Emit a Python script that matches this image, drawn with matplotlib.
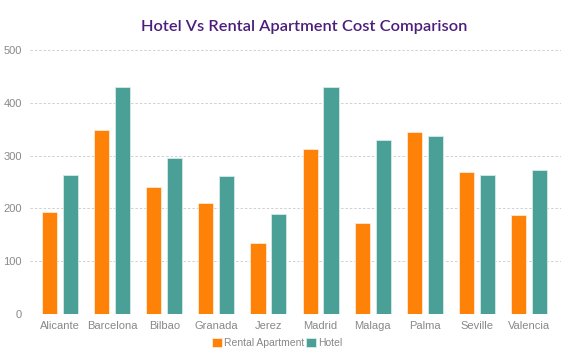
import matplotlib
matplotlib.use("Agg")
import matplotlib.pyplot as plt
import numpy as np

cities = ["Alicante", "Barcelona", "Bilbao", "Granada", "Jerez", "Madrid",
          "Malaga", "Palma", "Seville", "Valencia"]
rental = [193, 349, 241, 210, 134, 312, 172, 344, 268, 187]
hotel = [263, 430, 296, 261, 189, 430, 329, 338, 263, 272]
yticks = [0, 100, 200, 300, 400, 500]
series_names = ["Rental Apartment", "Hotel"]
colors = ["#FF8208", "#4A9F97"]

fig = plt.figure(figsize=(5.8, 3.56), dpi=100)
ax = fig.add_axes([30/580, 1-314/356, (561-30)/580, (314-50)/356])

x = np.arange(len(cities))
w = 0.29
off = 0.2
ax.bar(x - off, rental, w, color=colors[0], edgecolor="#FFE9D5", linewidth=0.6,
       label=series_names[0], zorder=3)
ax.bar(x + off, hotel, w, color=colors[1], edgecolor="#D5ECE9", linewidth=0.6,
       label=series_names[1], zorder=3)

ax.set_xlim(-0.576, 9.614)
ax.set_ylim(0, 500)
ax.set_yticks(yticks)
ax.set_xticks(x)
ax.set_xticklabels(cities)
for s in ax.spines.values():
    s.set_visible(False)
ax.yaxis.grid(True, linestyle=(0, (2.5, 2)), color="#D0D0D0", linewidth=0.7, zorder=0)
ax.tick_params(axis="both", length=0, labelsize=8, labelcolor="#888888",
               labelfontfamily="Liberation Sans")
ax.tick_params(axis="x", pad=5)
ax.tick_params(axis="y", pad=6)

fig.text(304/580, 1-27/356, "Hotel Vs Rental Apartment Cost Comparison",
         ha="center", va="center", fontsize=11.8, color="#4B1D7C",
         family="Lato", weight="semibold")

leg = fig.legend(loc="center", bbox_to_anchor=(277/580, 1-343/356), ncol=2,
                 frameon=False, handlelength=1.0, handleheight=1.0,
                 handletextpad=0.2, columnspacing=0.1,
                 prop={"family": "Liberation Sans", "size": 7.5})
for t in leg.get_texts():
    t.set_color("#888888")

fig.savefig("out.png", dpi=100)
